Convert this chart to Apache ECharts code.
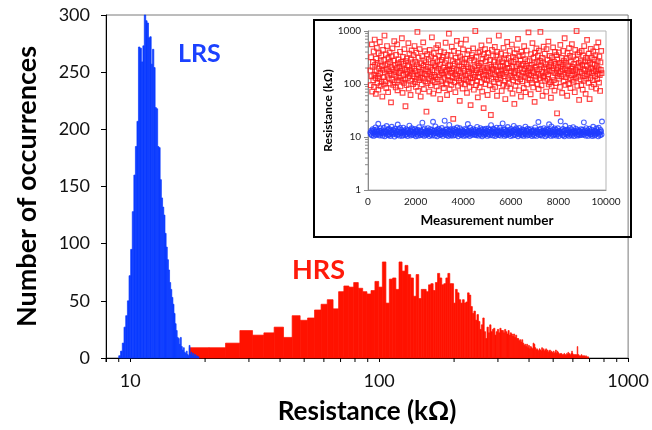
<!DOCTYPE html>
<html>
<head>
<meta charset="utf-8">
<title>Resistance distribution</title>
<script src="https://cdn.jsdelivr.net/npm/echarts@6.0.0/dist/echarts.min.js"></script>
<style>
  html, body { margin: 0; padding: 0; background: #fff; }
  #chart { width: 652px; height: 430px; }
</style>
</head>
<body>
<div id="chart"></div>
<script>
// histogram bins (kOhm), LRS in blue, HRS in red
const lrsStart = 9.0;
const lrsWidth = 0.15;
const lrsCounts = [
  2, 6, 13, 27, 37, 50, 72, 95, 128, 160, 185, 207, 272, 271, 259, 273, 300, 295, 293, 280,
  281, 257, 270, 254, 219, 218, 185, 184, 156, 140, 132, 125, 109, 97, 86, 77, 66, 60, 53, 47,
  39, 30, 24, 18, 17, 12, 18, 10, 7, 9, 5, 4, 6, 3, 2, 11, 3, 5, 2, 4,
  1, 3, 1, 2, 1, 1
];

const hrsStart = 17.3;
const hrsWidth = 3.43;
const hrsCounts = [
  9, 9, 13, 24, 20, 22, 27, 18, 37, 33, 35, 42, 47, 51, 43, 58, 63, 62, 66, 61,
  58, 56, 59, 67, 62, 84, 48, 69, 70, 60, 84, 76, 81, 73, 70, 54, 73, 52, 60, 60,
  58, 64, 65, 59, 66, 74, 70, 64, 65, 70, 74, 65, 65, 48, 60, 57, 51, 48, 51, 48,
  49, 57, 55, 45, 39, 41, 33, 38, 32, 25, 29, 35, 23, 17, 27, 22, 29, 23, 25, 26,
  20, 23, 25, 22, 26, 24, 24, 22, 25, 23, 21, 24, 20, 22, 21, 19, 21, 18, 20, 17,
  17, 15, 16, 14, 16, 13, 11, 12, 10, 12, 9, 11, 8, 10, 9, 8, 13, 12, 9, 7,
  8, 7, 6, 8, 7, 6, 9, 7, 8, 6, 7, 8, 6, 7, 5, 6, 7, 5, 6, 5,
  4, 6, 4, 5, 7, 4, 6, 5, 4, 3, 4, 3, 4, 3, 2, 3, 4, 2, 3, 2,
  4, 3, 5, 3, 4, 3, 2, 4, 6, 4, 3, 2, 3, 2, 3, 2, 3, 10, 2, 3,
  2, 1, 2, 1, 3, 2, 1, 2, 1, 2, 1, 1, 2, 1, 0, 1, 1
];

const mainXLabels = [10, 100, 1000];
const mainXMinor = [8, 9, 20, 30, 40, 50, 60, 70, 80, 90, 200, 300, 400, 500, 600, 700, 800, 900];
const insetYMinor = [2, 3, 4, 5, 6, 7, 8, 9, 20, 30, 40, 50, 60, 70, 80, 90, 200, 300, 400, 500, 600, 700, 800, 900];

// inset: resistance per measurement (subsampled), kOhm
const measFirst = 100;
const redStep = 15.2;
const redR = [
  180, 95, 320, 140, 560, 72, 210, 260, 118, 410, 88, 150, 690, 230, 130, 65, 300, 175, 480, 105,
  250, 140, 78, 380, 195, 125, 620, 160, 92, 270, 345, 110, 215, 58, 185, 440, 135, 98, 285, 820,
  165, 225, 112, 360, 84, 190, 520, 145, 240, 70, 310, 128, 175, 395, 102, 260, 155, 45, 205, 335,
  120, 470, 188, 96, 275, 150, 640, 108, 230, 172, 86, 355, 138, 198, 560, 76, 248, 118, 290, 162,
  210, 132, 405, 90, 178, 262, 115, 730, 196, 68, 325, 148, 240, 105, 455, 185, 122, 38, 270, 156,
  95, 305, 168, 226, 130, 590, 82, 214, 375, 142, 182, 62, 290, 115, 430, 200, 155, 255, 100, 350,
  140, 195, 520, 110, 265, 176, 88, 390, 126, 235, 960, 150, 74, 312, 208, 118, 455, 170, 132, 58,
  245, 160, 98, 335, 186, 128, 610, 222, 80, 280, 154, 415, 112, 190, 258, 30, 145, 365, 104, 212,
  172, 290, 125, 72, 440, 158, 205, 94, 330, 138, 760, 182, 116, 250, 66, 380, 148, 228, 108, 300,
  135, 218, 475, 90, 168, 265, 122, 540, 195, 76, 340, 146, 232, 52, 410, 180, 112, 285, 160, 98,
  320, 150, 205, 84, 395, 130, 248, 170, 600, 102, 275, 185, 62, 355, 120, 218, 140, 890, 190, 80,
  228, 115, 345, 162, 96, 505, 176, 134, 270, 22, 198, 420, 108, 240, 152, 70, 310, 128, 186, 650,
  142, 260, 92, 385, 175, 118, 225, 48, 330, 160, 575, 105, 212, 138, 290, 82, 450, 195, 124, 255,
  178, 98, 300, 145, 690, 120, 236, 68, 365, 155, 208, 112, 425, 172, 88, 275, 132, 40, 200, 310,
  106, 352, 190, 128, 470, 148, 78, 280, 215, 136, 1000, 165, 95, 325, 182, 114, 245, 56, 390, 158,
  222, 135, 86, 410, 168, 250, 108, 535, 190, 72, 298, 144, 205, 35, 360, 126, 180, 455, 100, 270,
  150, 320, 118, 200, 62, 385, 172, 140, 660, 230, 94, 285, 160, 26, 210, 125, 440, 185, 80, 340,
  195, 110, 262, 152, 500, 88, 228, 135, 345, 176, 60, 402, 122, 255, 170, 820, 104, 290, 148, 218,
  130, 375, 188, 74, 268, 156, 212, 96, 480, 140, 305, 182, 115, 52, 350, 166, 238, 90, 620, 200,
  245, 128, 310, 102, 198, 420, 145, 82, 270, 175, 135, 555, 210, 66, 325, 118, 260, 160, 42, 380,
  168, 92, 290, 215, 130, 450, 180, 110, 710, 240, 150, 76, 335, 195, 122, 275, 58, 405, 142, 225,
  112, 350, 165, 240, 84, 515, 190, 136, 295, 70, 218, 158, 428, 98, 268, 175, 128, 940, 202, 150,
  280, 120, 198, 64, 365, 145, 230, 105, 590, 172, 86, 315, 160, 248, 46, 390, 138, 210, 118, 470,
  185, 262, 100, 340, 155, 80, 425, 192, 128, 275, 960, 146, 222, 94, 310, 170, 60, 255, 132, 505,
  140, 205, 372, 115, 238, 165, 72, 455, 188, 125, 285, 150, 630, 98, 215, 176, 340, 108, 250, 55,
  228, 90, 318, 178, 134, 490, 200, 118, 265, 75, 402, 160, 240, 104, 350, 185, 28, 290, 142, 210,
  162, 395, 126, 250, 88, 545, 172, 215, 140, 310, 68, 235, 190, 420, 112, 276, 150, 730, 198, 96,
  255, 135, 302, 180, 60, 380, 158, 224, 100, 475, 176, 128, 340, 84, 262, 195, 145, 565, 210, 120,
  175, 330, 110, 240, 152, 70, 440, 186, 130, 288, 1000, 165, 92, 360, 214, 138, 250, 50, 395, 170,
  208, 122, 270, 95, 420, 160, 232, 78, 345, 188, 115, 520, 142, 265, 180, 65, 310, 126, 220, 680,
  145, 280, 190, 105, 375, 168, 52, 250, 130, 460, 200, 88, 315, 158, 236, 118, 410, 175, 98, 290,
  230, 140, 350, 178, 82, 495, 205, 124, 268, 156, 610, 190, 106, 330, 148, 74, 255, 185, 420, 160
];

const blueStep = 19.5;
const blueR = [
  12.1, 11.4, 13.2, 10.8, 12.7, 14.1, 11.9, 10.5, 13.6, 12.3, 11.1, 15.2, 12.8, 10.9, 13.9, 11.6, 12.4, 17.8, 11.2, 13.1, 10.7, 12.9, 14.6, 11.8, 12.2,
  13.4, 10.6, 12.0, 11.5, 14.9, 12.6, 10.3, 13.0, 11.7, 12.5, 16.1, 11.0, 13.7, 12.2, 10.8, 14.3, 11.3, 12.8, 10.4, 13.5, 11.9, 15.6, 12.3, 11.1, 13.8,
  11.6, 12.9, 10.2, 14.4, 12.0, 11.4, 13.3, 10.9, 12.6, 17.2, 11.2, 13.9, 12.4, 10.6, 14.8, 11.8, 12.1, 13.6, 10.5, 12.7, 11.0, 15.0, 12.5, 11.7, 13.2,
  10.8, 12.3, 14.0, 11.3, 12.9, 10.4, 13.5, 11.9, 12.2, 16.4, 11.5, 13.1, 10.7, 12.8, 14.6, 11.1, 12.6, 13.8, 10.9, 12.0, 11.6, 14.2, 12.4, 10.3, 13.4,
  12.7, 11.2, 13.7, 10.6, 12.1, 15.3, 11.8, 12.9, 10.8, 13.3, 11.4, 12.5, 18.6, 11.0, 13.9, 12.2, 10.5, 14.5, 11.7, 12.8, 10.9, 13.1, 12.0, 11.3, 14.7,
  11.9, 13.0, 10.4, 12.6, 14.1, 11.1, 12.3, 13.6, 10.7, 12.9, 19.4, 11.5, 13.2, 12.0, 10.6, 15.8, 11.8, 12.4, 13.7, 10.3, 12.2, 11.6, 14.3, 12.8, 11.0,
  13.5, 10.9, 12.1, 11.4, 14.8, 12.7, 10.5, 13.3, 11.9, 12.5, 20.3, 11.2, 13.8, 12.3, 10.8, 14.0, 11.7, 12.9, 10.4, 13.1, 16.9, 11.3, 12.6, 13.9, 10.7,
  12.0, 11.5, 13.4, 10.6, 12.8, 14.4, 11.0, 12.2, 13.7, 10.9, 12.5, 11.8, 15.1, 12.9, 10.3, 13.2, 11.6, 12.4, 14.6, 11.1, 12.7, 10.8, 13.6, 12.1, 11.4,
  13.0, 10.5, 12.6, 11.9, 14.2, 12.3, 10.7, 13.8, 11.3, 12.8, 17.6, 11.0, 13.3, 12.0, 10.4, 14.9, 11.7, 12.5, 13.5, 10.9, 12.2, 11.5, 14.0, 12.9, 11.2,
  12.4, 11.1, 13.6, 10.8, 12.0, 15.5, 11.8, 12.7, 10.6, 13.1, 11.4, 12.9, 14.7, 11.0, 13.4, 12.3, 10.3, 14.1, 11.6, 12.6, 10.9, 13.9, 12.1, 11.3, 14.4,
  11.7, 13.2, 10.5, 12.8, 14.5, 11.2, 12.4, 13.7, 10.8, 12.0, 16.7, 11.5, 13.0, 12.6, 10.7, 14.3, 11.9, 12.2, 13.8, 10.4, 12.9, 11.1, 15.0, 12.5, 11.6,
  13.3, 10.9, 12.3, 11.0, 14.9, 12.7, 10.6, 13.5, 11.8, 12.1, 18.1, 11.4, 13.9, 12.4, 10.5, 14.0, 11.3, 12.8, 10.8, 13.2, 11.7, 15.4, 12.0, 11.2, 13.6,
  11.5, 12.6, 10.4, 14.2, 12.2, 11.9, 13.1, 10.7, 12.9, 16.2, 11.1, 13.7, 12.5, 10.9, 14.6, 11.6, 12.0, 13.4, 10.3, 12.8, 11.3, 14.8, 12.3, 11.8, 13.0,
  10.8, 12.4, 13.9, 11.2, 12.7, 10.5, 13.6, 11.7, 12.1, 15.7, 11.4, 13.3, 10.6, 12.9, 14.4, 11.0, 12.5, 13.8, 10.9, 12.2, 11.5, 14.1, 12.6, 10.4, 13.2,
  12.8, 11.3, 13.5, 10.7, 12.0, 15.2, 11.9, 12.7, 10.5, 13.4, 11.6, 12.3, 19.2, 11.1, 13.8, 12.5, 10.8, 14.3, 11.4, 12.9, 10.6, 13.0, 12.1, 11.8, 14.7,
  11.8, 13.1, 10.3, 12.5, 14.0, 11.0, 12.2, 13.6, 10.9, 12.8, 17.4, 11.7, 13.2, 12.0, 10.5, 15.9, 11.5, 12.4, 13.9, 10.7, 12.6, 11.2, 14.5, 12.9, 11.4,
  13.7, 10.6, 12.3, 11.3, 14.6, 12.7, 10.4, 13.0, 11.9, 12.2, 19.8, 11.6, 13.5, 12.5, 10.8, 14.2, 11.1, 12.9, 10.3, 13.3, 16.3, 11.4, 12.1, 13.8, 10.9,
  12.2, 11.7, 13.4, 10.5, 12.6, 14.8, 11.2, 12.0, 13.9, 10.7, 12.4, 11.5, 15.3, 12.8, 10.4, 13.1, 11.8, 12.3, 14.4, 11.0, 12.9, 10.6, 13.6, 12.5, 11.3,
  13.2, 10.8, 12.7, 11.6, 14.1, 12.1, 10.9, 13.7, 11.4, 12.6, 18.9, 11.1, 13.4, 12.2, 10.6, 14.7, 11.9, 12.3, 13.3, 10.5, 12.0, 11.7, 14.3, 12.8, 11.0,
  12.5, 11.3, 13.8, 10.4, 12.2, 15.6, 11.6, 12.9, 10.7, 13.0, 11.2, 12.6, 14.5, 11.8, 13.5, 12.0, 10.3, 14.9, 11.5, 12.4, 10.8, 13.6, 12.7, 11.1, 19.6
];

const FONT = 'Lato';
const RED = '#ff1200';
const BLUE = '#0b3bff';

function binsOf(start, width, counts) {
  return counts.map((c, i) => [start + i * width, start + (i + 1) * width, c]);
}

// one filled rectangle per bin, placed through the axes
function barItem(color) {
  return function (params, api) {
    const top = api.coord([api.value(0), api.value(2)]);
    const base = api.coord([api.value(1), 0]);
    return {
      type: 'rect',
      shape: { x: top[0], y: top[1], width: base[0] - top[0], height: base[1] - top[1] },
      style: { fill: color, stroke: color, lineWidth: 0.7 }
    };
  };
}

const plainNumber = v => String(Math.round(v));

const chart = echarts.init(document.getElementById('chart'), null, { renderer: 'canvas' });

const option = {
  backgroundColor: '#fff',
  animation: false,
  textStyle: { fontFamily: FONT },
  grid: [
    { left: 106, right: 20, top: 15, bottom: 72, show: true, borderColor: '#7a7a7a', borderWidth: 1 },
    { left: 368, right: 46, top: 31, bottom: 240, show: true, borderColor: '#b5b5b5', borderWidth: 1 }
  ],
  xAxis: [
    {
      type: 'log', gridIndex: 0, min: 8, max: 1000, logBase: 10,
      axisLine: { lineStyle: { color: '#000', width: 1 } },
      axisTick: { show: true, length: 4, lineStyle: { color: '#000' } },
      axisLabel: {
        fontSize: 18, color: '#111', margin: 14, fontFamily: FONT,
        formatter: v => mainXLabels.includes(Math.round(v)) ? String(Math.round(v)) : ''
      },
      splitLine: { show: false },
      name: 'Resistance (kΩ)', nameLocation: 'middle', nameGap: 41,
      nameTextStyle: { fontSize: 26, fontWeight: 'bold', color: '#000', fontFamily: FONT }
    },
    {
      type: 'value', gridIndex: 1, min: 0, max: 10000, interval: 2000,
      axisLine: { lineStyle: { color: '#8a8a8a' } },
      axisTick: { show: false },
      axisLabel: { fontSize: 10, color: '#222', margin: 7, fontFamily: FONT, formatter: plainNumber },
      splitLine: { show: false },
      name: 'Measurement number', nameLocation: 'middle', nameGap: 24,
      nameTextStyle: { fontSize: 13.5, fontWeight: 'bold', color: '#000', fontFamily: FONT }
    }
  ],
  yAxis: [
    {
      type: 'value', gridIndex: 0, min: 0, max: 300, interval: 50,
      axisLine: { show: true, lineStyle: { color: '#000', width: 1 } },
      axisTick: { show: true, length: 5, lineStyle: { color: '#000' } },
      axisLabel: { fontSize: 18, color: '#111', margin: 16, fontFamily: FONT },
      splitLine: { show: false },
      name: 'Number of occurrences', nameLocation: 'middle', nameGap: 65, nameRotate: 90,
      nameTextStyle: { fontSize: 27, fontWeight: 'bold', color: '#000', fontFamily: FONT }
    },
    {
      type: 'log', gridIndex: 1, min: 1, max: 1000, logBase: 10,
      axisLine: { show: true, lineStyle: { color: '#8a8a8a' } },
      axisTick: { show: true, length: 4, lineStyle: { color: '#8a8a8a' } },
      axisLabel: { fontSize: 10, color: '#222', margin: 7, fontFamily: FONT, formatter: plainNumber },
      splitLine: { show: false },
      name: 'Resistance (kΩ)', nameLocation: 'middle', nameGap: 33, nameRotate: 90,
      nameTextStyle: { fontSize: 12, fontWeight: 'bold', color: '#000', fontFamily: FONT }
    }
  ],
  graphic: [
    {
      type: 'rect', z: 0,
      shape: { x: 314, y: 20, width: 317, height: 217 },
      style: { fill: 'rgba(0,0,0,0)', stroke: '#000', lineWidth: 2 }
    },
    {
      type: 'text', left: 178, top: 41,
      style: { text: 'LRS', fill: '#1b41ff', font: 'bold 25px ' + FONT }
    },
    {
      type: 'text', left: 292, top: 257,
      style: { text: 'HRS', fill: '#ff1a0a', font: 'bold 27px ' + FONT }
    }
  ],
  series: [
    {
      name: 'HRS', type: 'custom', xAxisIndex: 0, yAxisIndex: 0,
      renderItem: barItem(RED),
      encode: { x: [0, 1], y: 2 },
      data: binsOf(hrsStart, hrsWidth, hrsCounts)
    },
    {
      name: 'LRS', type: 'custom', xAxisIndex: 0, yAxisIndex: 0,
      renderItem: barItem(BLUE),
      encode: { x: [0, 1], y: 2 },
      data: binsOf(lrsStart, lrsWidth, lrsCounts)
    },
    {
      name: 'x minor ticks', type: 'custom', xAxisIndex: 0, yAxisIndex: 0,
      renderItem: function (params, api) {
        const p = api.coord([api.value(0), 0]);
        return {
          type: 'line',
          shape: { x1: p[0], y1: p[1], x2: p[0], y2: p[1] + 4 },
          style: { stroke: '#000', lineWidth: 1 }
        };
      },
      encode: { x: 0, y: 1 },
      data: mainXMinor.map(v => [v, 0]),
      silent: true
    },
    {
      name: 'inset y minor ticks', type: 'custom', xAxisIndex: 1, yAxisIndex: 1,
      renderItem: function (params, api) {
        const p = api.coord([0, api.value(1)]);
        return {
          type: 'line',
          shape: { x1: p[0] - 3, y1: p[1], x2: p[0], y2: p[1] },
          style: { stroke: '#8a8a8a', lineWidth: 1 }
        };
      },
      encode: { x: 0, y: 1 },
      data: insetYMinor.map(v => [0, v]),
      silent: true
    },
    {
      name: 'HRS points', type: 'scatter', xAxisIndex: 1, yAxisIndex: 1,
      symbol: 'rect', symbolSize: 4.6,
      itemStyle: { color: 'rgba(255,255,255,0)', borderColor: '#ff1a1a', borderWidth: 1.2 },
      data: redR.map((r, i) => [measFirst + i * redStep, r])
    },
    {
      name: 'LRS points', type: 'scatter', xAxisIndex: 1, yAxisIndex: 1,
      symbol: 'circle', symbolSize: 4.8,
      itemStyle: { color: 'rgba(255,255,255,0)', borderColor: '#1f3cff', borderWidth: 1.1 },
      data: blueR.map((r, i) => [measFirst + i * blueStep, r])
    }
  ]
};

chart.setOption(option);
</script>
</body>
</html>
